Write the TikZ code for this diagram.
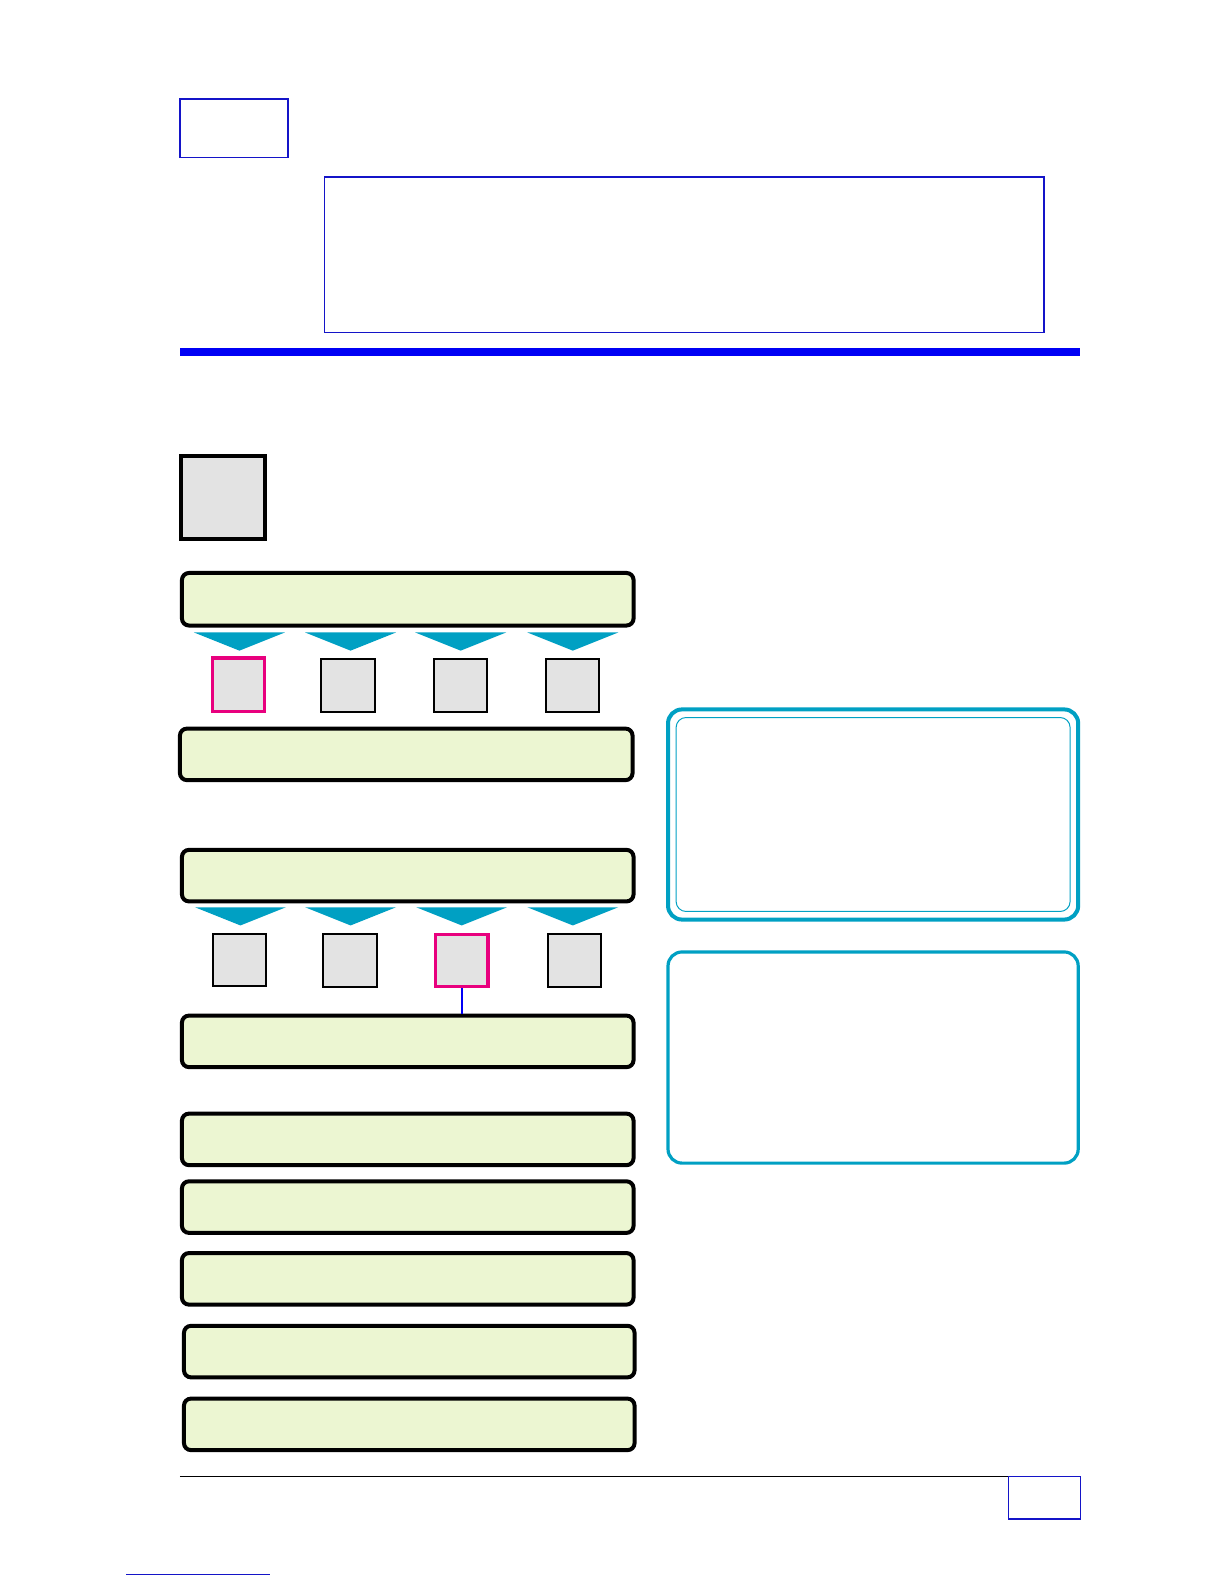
\documentclass[tikz,border=0pt]{standalone}
\usetikzlibrary{fit}
\definecolor{dblue}{RGB}{20,20,200}
\definecolor{bblue}{RGB}{0,0,245}
\definecolor{lgreen}{RGB}{236,246,210}
\definecolor{lgray}{RGB}{227,227,227}
\definecolor{teal1}{RGB}{0,160,195}
\definecolor{pinkm}{RGB}{232,0,126}
\tikzset{
  frame/.style={draw=dblue, line width=0.75pt, inner sep=0pt},
  gbox/.style={draw=black, fill=lgreen, line width=2pt, rounded corners=3.5pt, inner sep=0pt},
  sq/.style={draw=black, fill=lgray, line width=1pt, inner sep=0pt},
  sqhi/.style={draw=pinkm, fill=lgray, line width=1.7pt, inner sep=0pt},
  bigsq/.style={draw=black, fill=lgray, line width=2pt, inner sep=0pt},
  tbox/.style={draw=teal1, line width=2pt, rounded corners=7pt, inner sep=0pt},
  tinner/.style={draw=teal1, line width=0.5pt, rounded corners=5pt, inner sep=0pt},
  tri/.style={fill=teal1},
}
\begin{document}
\begin{tikzpicture}[x=0.5pt,y=-0.5pt]
\useasboundingbox (0,0) rectangle (1224,1584);
\begin{scope}[scale=1.0103]
% header
\node[frame, fit={(178,98) (285,156)}] (hdr) {};
\node[frame, fit={(321,175) (1033,329)}] (title) {};
\fill[bblue] (178,344) rectangle (1069,352);
% big gray square
\node[bigsq, fit={(179,451) (262,533)}] (icon) {};
% green boxes
\node[gbox, fit={(180,567) (627,619)}] (g1) {};
\node[gbox, fit={(178,721) (626,772)}] (g2) {};
\node[gbox, fit={(180,841) (627,892)}] (g3) {};
\node[gbox, fit={(180,1005) (627,1056)}] (g4) {};
\node[gbox, fit={(180,1102) (627,1153)}] (g5) {};
\node[gbox, fit={(180,1169) (627,1220)}] (g6) {};
\node[gbox, fit={(180,1240) (627,1291)}] (g7) {};
\node[gbox, fit={(182,1312) (628,1363)}] (g8) {};
\node[gbox, fit={(182,1384) (628,1435)}] (g9) {};
% triangles row 1
\foreach \cx in {237,347,456,567} {
  \fill[tri] (\cx-45,626) -- (\cx+45,626) -- (\cx,644) -- cycle;
}
% squares row 1
\node[sqhi, fit={(210,651) (262,704)}] (a1) {};
\node[sq, fit={(318,652) (371,705)}] (a2) {};
\node[sq, fit={(429,652) (482,705)}] (a3) {};
\node[sq, fit={(540,652) (593,705)}] (a4) {};
% triangles row 2
\foreach \cx in {238,347,457,567} {
  \fill[tri] (\cx-45,898) -- (\cx+45,898) -- (\cx,916) -- cycle;
}
% squares row 2
\node[sq, fit={(211,924) (263,976)}] (b1) {};
\node[sq, fit={(320,924) (373,977)}] (b2) {};
\node[sqhi, fit={(431,925) (483,976)}] (b3) {};
\node[sq, fit={(542,924) (595,977)}] (b4) {};
\draw[bblue, line width=0.8pt] (b3.south) -- (b3.south |- g4.north);
% right boxes
\node[tbox, fit={(661,702) (1067,910)}] (r1) {};
\node[tinner, fit={(669,710) (1059,902)}] (r1in) {};
\node[tbox, line width=1.6pt, fit={(661,942) (1067,1151)}] (r2) {};
% footer
\coordinate (fl) at (178,1461);
\coordinate (fr) at (1069,1461);
\draw[black, line width=0.7pt] (fl) -- (fr);
\node[frame, fit={(998,1461) (1069,1503)}] (pg) {};
\coordinate (ul) at (125,1558);
\coordinate (ur) at (267,1558);
\draw[dblue, line width=0.7pt] (ul) -- (ur);
\end{scope}
\end{tikzpicture}
\end{document}
